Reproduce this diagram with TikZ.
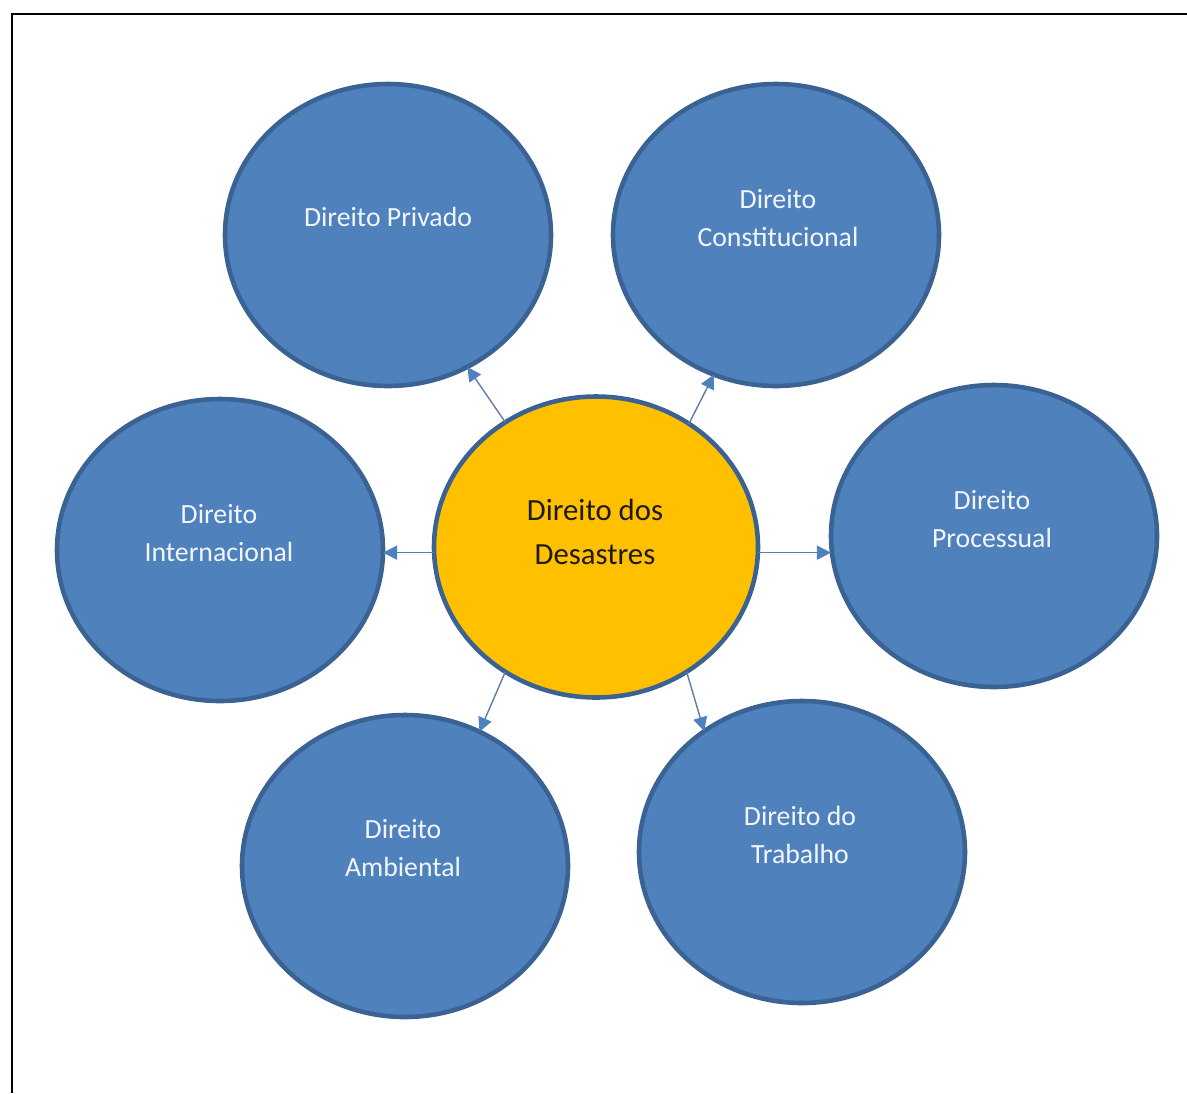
\documentclass[tikz,border=0pt]{standalone}
\usepackage{fontspec}
\setmainfont{Carlito}
\usetikzlibrary{shapes.geometric,arrows.meta}
\definecolor{bfill}{HTML}{4F81BD}
\definecolor{bline}{HTML}{3A6293}
\definecolor{yfill}{HTML}{FFC000}
\definecolor{arrline}{HTML}{5E7DA6}
\definecolor{wtext}{HTML}{F2F6FC}
\definecolor{dtext}{HTML}{1E1A12}
\newlength{\pxu}
\setlength{\pxu}{0.02cm}
\tikzset{
  bluecirc/.style={ellipse, draw=bline, fill=bfill, line width=2.6pt, minimum width=326\pxu, minimum height=302\pxu, inner sep=0pt, outer sep=0pt},
  centcirc/.style={ellipse, draw=bline, fill=yfill, line width=2.6pt, minimum width=324\pxu, minimum height=301\pxu, inner sep=0pt, outer sep=0pt},
  btext/.style={text=wtext, align=center, font=\fontsize{15.8}{21.3}\selectfont, inner sep=0pt},
  ctext/.style={text=dtext, align=center, font=\fontsize{17.5}{25}\selectfont, inner sep=0pt},
  arr/.style={draw=arrline, line width=0.8pt, -{Triangle[length=8pt,width=8pt,color=bfill,fill=bfill]}},
  frameline/.style={draw=black, line width=1.3pt}
}
\begin{document}
\begin{tikzpicture}[x=0.02cm, y=-0.02cm]
  \useasboundingbox (0,0) rectangle (1187,1093);
  \coordinate (fb) at (12,1093);
  \coordinate (fc) at (12,14);
  \coordinate (fr) at (1187,14);
  \draw[frameline] (fb) -- (fc) -- (fr);

  % circles
  \node[centcirc] (C) at (596,547) {};
  \node[bluecirc] (P) at (388,235) {};
  \node[bluecirc] (K) at (776,235) {};
  \node[bluecirc] (I) at (220,550) {};
  \node[bluecirc] (R) at (994,536) {};
  \node[bluecirc] (A) at (405,866) {};
  \node[bluecirc] (T) at (802,852) {};

  % texts
  \node[ctext] (tC) at (595,532) {Direito dos\\Desastres};
  \node[btext] (tP) at (388,217) {Direito Privado};
  \node[btext] (tK) at (778,218) {Direito\\Constitucional};
  \node[btext] (tI) at (219,533) {Direito\\Internacional};
  \node[btext] (tR) at (992,519) {Direito\\Processual};
  \node[btext] (tA) at (403,848) {Direito\\Ambiental};
  \node[btext] (tT) at (800,835) {Direito do\\Trabalho};

  % connectors
  \draw[arr] (C.126.5) -- (P.-59.3);
  \draw[arr] (C.53.5) -- (K.-114.4);
  \draw[arr] (C.182) -- (I.east |- C.182);
  \draw[arr] (C.-2) -- (R.west |- C.-2);
  \draw[arr] (C.-126.9) -- (A.61.6);
  \draw[arr] (C.-54.3) -- (T.129.5);
\end{tikzpicture}
\end{document}
